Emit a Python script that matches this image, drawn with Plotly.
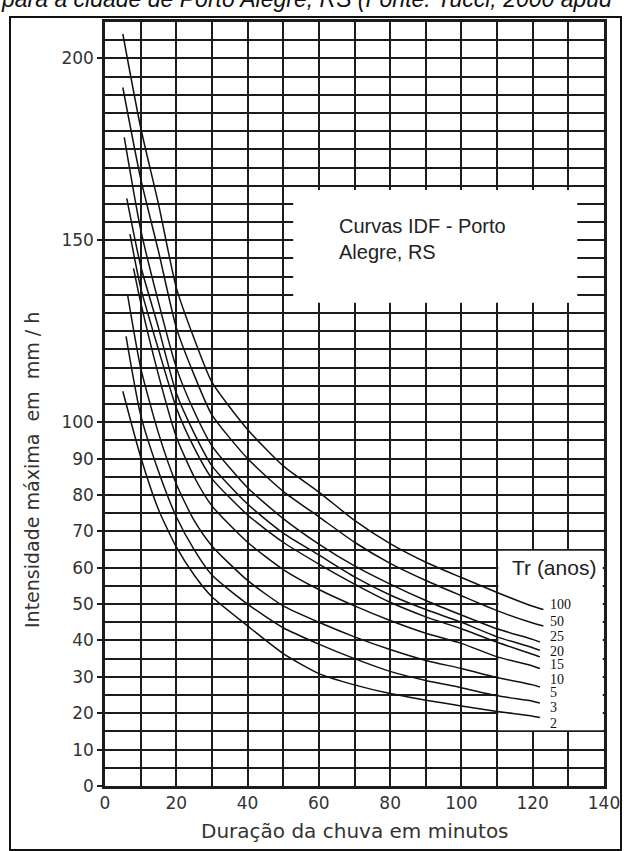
import plotly.graph_objects as go

# IDF curves: duration (min) -> max intensity (mm/h)
t_100 = [5, 10, 15, 20, 25, 30, 40, 50, 60, 70, 80, 90, 100, 110, 120, 123]
i_100 = [206.7, 181, 160, 137, 123, 111, 98, 88, 80.8, 73, 66.6, 61.5, 57.3, 53.2, 49.4, 48.5]
t_50 = [5, 10, 15, 20, 25, 30, 40, 50, 60, 70, 80, 90, 100, 110, 120, 123]
i_50 = [192, 167, 147, 126, 113, 102, 90, 81, 74, 67, 61.2, 56.5, 52.3, 48.2, 44.8, 44]
t_25 = [5.4, 10, 15, 20, 25, 30, 40, 50, 60, 70, 80, 90, 100, 110, 120, 122]
i_25 = [178.3, 153, 133, 115, 103, 93.5, 82, 73.5, 66.5, 60.5, 55.5, 51, 47, 43.2, 40.3, 39.6]
t_20 = [6.1, 10, 15, 20, 25, 30, 40, 50, 60, 70, 80, 90, 100, 110, 120, 122]
i_20 = [161.5, 143, 126, 108, 97, 88, 77.5, 69.5, 63.5, 57.5, 52.5, 48.5, 45, 41, 38, 37.3]
t_15 = [7, 10, 15, 20, 25, 30, 40, 50, 60, 70, 80, 90, 100, 110, 120, 122]
i_15 = [151.7, 137, 120, 104, 93, 84.5, 74.5, 67, 61, 55.5, 50.5, 46.5, 43.2, 39.5, 36.2, 35.5]
t_10 = [8, 10, 15, 20, 25, 30, 40, 50, 60, 70, 80, 90, 100, 110, 120, 122]
i_10 = [142.3, 133, 113, 96, 85, 77, 67, 59.5, 54, 49.5, 45.5, 42, 39.2, 35.5, 33, 32.3]
t_5 = [6.3, 10, 15, 20, 25, 30, 40, 50, 60, 70, 80, 90, 100, 110, 120, 122]
i_5 = [135.2, 115, 97, 83, 73, 66, 56.5, 49.5, 45, 41, 37.5, 34.5, 32.3, 29.8, 27.8, 27.2]
t_3 = [5.9, 10, 15, 20, 25, 30, 40, 50, 60, 70, 80, 90, 100, 110, 120, 122]
i_3 = [123.6, 102, 86.5, 74, 65, 58, 50, 43.5, 39, 35, 31.5, 29, 27, 24.8, 23.3, 22.8]
t_2 = [5, 10, 15, 20, 25, 30, 40, 50, 60, 70, 80, 90, 100, 110, 120, 122]
i_2 = [108.5, 90.5, 76, 65.7, 58, 52, 44, 36.4, 30.9, 27.8, 25.4, 23.6, 22, 20.5, 19.2, 18.8]

curves = [("100", t_100, i_100), ("50", t_50, i_50), ("25", t_25, i_25),
          ("20", t_20, i_20), ("15", t_15, i_15), ("10", t_10, i_10),
          ("5", t_5, i_5), ("3", t_3, i_3), ("2", t_2, i_2)]

# where the little Tr labels sit (data coords)
lab_x = 124.2
lab_y = [50, 45.3, 41.2, 37.1, 33.4, 29.3, 25.6, 21.7, 17.3]

x_ticks = [0, 20, 40, 60, 80, 100, 120, 140]
y_ticks = [0, 10, 20, 30, 40, 50, 60, 70, 80, 90, 100, 150, 200]

# pixel helpers for things placed outside the plot area
L, T, W, H = 105, 22, 499, 764
def px(x):
    return (x - L) / W
def py(y):
    return (T + H - y) / H

fig = go.Figure()
for name, t, i in curves:
    fig.add_trace(go.Scatter(x=t, y=i, mode="lines", name=name,
                             line=dict(color="#111", width=1.5, shape="spline", smoothing=0.6),
                             showlegend=False, hoverinfo="x+y+name"))

grid = "#1c1c1c"
fig.update_xaxes(range=[0, 140], tickvals=x_ticks, showgrid=True, gridcolor=grid, gridwidth=2,
                 minor=dict(dtick=10, showgrid=True, gridcolor=grid, gridwidth=2),
                 showline=True, linecolor=grid, linewidth=2.5, mirror=True,
                 ticks="", zeroline=False, automargin=False,
                 tickfont=dict(family="DejaVu Sans", size=17, color="#333"))
fig.update_yaxes(range=[0, 210], tickvals=y_ticks, showgrid=True, gridcolor=grid, gridwidth=2,
                 minor=dict(dtick=5, showgrid=True, gridcolor=grid, gridwidth=2),
                 showline=True, linecolor=grid, linewidth=2.5, mirror=True,
                 ticks="outside", ticklen=5, tickcolor=grid, tickwidth=1.5, zeroline=False,
                 automargin=False,
                 tickfont=dict(family="DejaVu Sans", size=17, color="#333"))

# white boxes that cut the grid
fig.add_shape(type="rect", x0=52.8, x1=132.5, y0=132.8, y1=163.8, layer="between",
              fillcolor="white", line_width=0)
fig.add_shape(type="rect", x0=110.35, x1=139.65, y0=15.35, y1=64.65, layer="between",
              fillcolor="white", line_width=0)
# outer frame of the scanned figure
fig.add_shape(type="rect", xref="paper", yref="paper", x0=px(10), x1=px(621), y0=py(850),
              y1=py(17), line=dict(color="#111", width=2), fillcolor="rgba(0,0,0,0)")

fig.add_annotation(x=65, y=150.3, xanchor="left", yanchor="middle", showarrow=False, align="left",
                   text="Curvas IDF - Porto<br>Alegre, RS",
                   font=dict(family="Liberation Sans", size=20, color="#222"))
fig.add_annotation(x=113.6, y=60, xanchor="left", yanchor="middle", showarrow=False,
                   text="Tr (anos)", font=dict(family="Liberation Sans", size=21, color="#222"))
for (name, t, i), ly in zip(curves, lab_y):
    fig.add_annotation(x=lab_x, y=ly, xanchor="left", yanchor="middle", showarrow=False,
                       text=name, font=dict(family="Liberation Serif", size=14, color="#111"))

# axis titles
fig.add_annotation(xref="paper", yref="paper", x=px(32), y=py(470), textangle=-90,
                   xanchor="center", yanchor="middle",
                   showarrow=False, text="Intensidade máxima  em  mm / h",
                   font=dict(family="DejaVu Sans", size=19, color="#333"))
fig.add_annotation(xref="paper", yref="paper", x=px(355), y=py(831),
                   xanchor="center", yanchor="middle", showarrow=False,
                   text="Duração da chuva em minutos",
                   font=dict(family="DejaVu Sans", size=20, color="#333"))
# caption cut at the top of the scan
fig.add_annotation(xref="paper", yref="paper", x=px(-1), y=py(14), xanchor="left", yanchor="bottom",
                   showarrow=False, text="<i>para a cidade de Porto Alegre, RS (Fonte: Tucci, 2000 apud</i>",
                   font=dict(family="Liberation Sans", size=23, color="#111"))

fig.update_layout(width=624, height=851, margin=dict(l=L, r=624 - L - W, t=T, b=851 - T - H),
                  paper_bgcolor="white", plot_bgcolor="white")

# the page itself should have no body margin so the figure fills the window
fig.write_html("out.html", config={"displayModeBar": False},
               post_script="document.body.style.margin='0';")
